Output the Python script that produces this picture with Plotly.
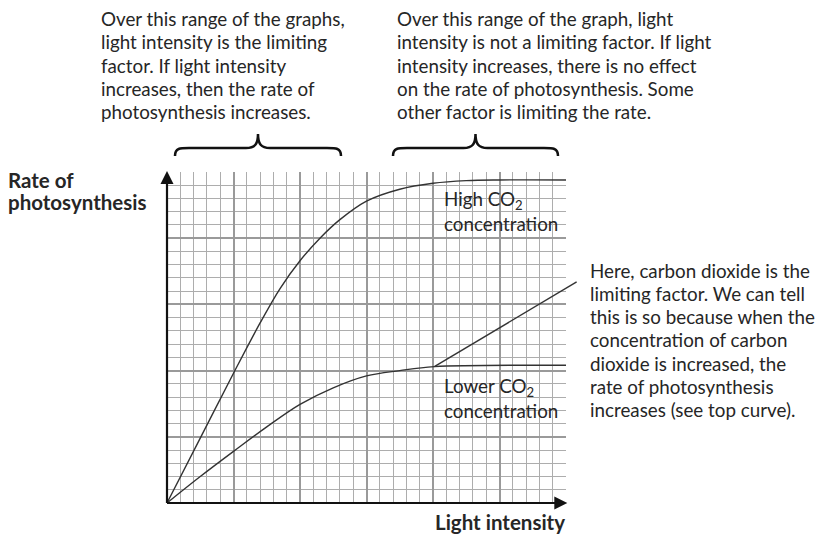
import plotly.graph_objects as go

# Graph-paper grid measured in cells: 30 across (light intensity), 25 up (rate)
X_MAX = 30
Y_MAX = 25

# High CO2 concentration curve
high_x = [0, 2.5, 5, 7, 8.5, 10, 11.5, 13, 15, 17.5, 20, 22.5, 25, 30]
high_y = [0, 4.9, 9.8, 13.6, 16.2, 18.3, 20.0, 21.4, 22.8, 23.7, 24.15, 24.35, 24.4, 24.4]

# Lower CO2 concentration curve
low_x = [0, 2.5, 5, 7.5, 10, 12.5, 15, 17.5, 20.1, 30]
low_y = [0, 2.0, 3.9, 5.75, 7.45, 8.7, 9.6, 10.0, 10.3, 10.4]

# Rate that would continue if CO2 were not limiting (runs out to the note)
co2_line_x = [20.1, 30.8]
co2_line_y = [10.3, 16.7]

# Axis arrow tips
x_axis_end = 30.1
y_axis_end = 25.07

left_note = [
    "Over this range of the graphs,",
    "light intensity is the limiting",
    "factor. If light intensity",
    "increases, then the rate of",
    "photosynthesis increases.",
]
right_note = [
    "Over this range of the graph, light",
    "intensity is not a limiting factor. If light",
    "intensity increases, there is no effect",
    "on the rate of photosynthesis. Some",
    "other factor is limiting the rate.",
]
side_note = [
    "Here, carbon dioxide is the",
    "limiting factor. We can tell",
    "this is so because when the",
    "concentration of carbon",
    "dioxide is increased, the",
    "rate of photosynthesis",
    "increases (see top curve).",
]
high_label = ["High CO<sub>2</sub>", "concentration"]
low_label = ["Lower CO<sub>2</sub>", "concentration"]
y_title = ["Rate of", "photosynthesis"]
x_title = "Light intensity"

W, H = 817, 536
# Outer drawing area (curves, axes) and the grid inside it, in pixels
OL, OR, OT, OB = 160, 590, 165, 510
GL, GR, GT, GB = 167, 566, 172, 503

FONT = "Lato"
TEXT_COLOR = "#262626"
CURVE_COLOR = "#333333"
AXIS_COLOR = "#111111"
NOTE_SIZE = 18.8


def px(xp):
    return (xp - OL) / (OR - OL)


def py(yp):
    return (OB - yp) / (OB - OT)


# Same cell size on both axis pairs so the curves line up with the grid
sx = (GR - GL) / X_MAX
sy = (GB - GT) / Y_MAX
x2_range = [(OL - GL) / sx, (OR - GL) / sx]
y2_range = [(GB - OB) / sy, (GB - OT) / sy]

fig = go.Figure()

# Placeholder so the grid subplot is drawn
fig.add_trace(go.Scatter(x=[None], y=[None], xaxis="x", yaxis="y", showlegend=False, hoverinfo="skip"))

curve_line = dict(color=CURVE_COLOR, width=1.4, shape="spline", smoothing=1.0)
fig.add_trace(go.Scatter(x=high_x, y=high_y, mode="lines", line=curve_line,
                         xaxis="x2", yaxis="y2", hoverinfo="skip", showlegend=False))
fig.add_trace(go.Scatter(x=low_x, y=low_y, mode="lines", line=curve_line,
                         xaxis="x2", yaxis="y2", hoverinfo="skip", showlegend=False))
fig.add_trace(go.Scatter(x=co2_line_x, y=co2_line_y, mode="lines",
                         line=dict(color=CURVE_COLOR, width=1.4),
                         xaxis="x2", yaxis="y2", hoverinfo="skip", showlegend=False))

# Axes with arrowheads
fig.add_trace(go.Scatter(x=[0, 0], y=[0, y_axis_end - 0.4], mode="lines",
                         line=dict(color=AXIS_COLOR, width=2.2),
                         xaxis="x2", yaxis="y2", hoverinfo="skip", showlegend=False))
fig.add_trace(go.Scatter(x=[0, x_axis_end - 0.4], y=[0, 0], mode="lines",
                         line=dict(color=AXIS_COLOR, width=2.2),
                         xaxis="x2", yaxis="y2", hoverinfo="skip", showlegend=False))
fig.add_trace(go.Scatter(x=[0], y=[y_axis_end], mode="markers",
                         marker=dict(symbol="arrow-up", size=13, color=AXIS_COLOR, line=dict(width=0)),
                         xaxis="x2", yaxis="y2", hoverinfo="skip", showlegend=False))
fig.add_trace(go.Scatter(x=[x_axis_end], y=[0], mode="markers",
                         marker=dict(symbol="arrow-right", size=13, color=AXIS_COLOR, line=dict(width=0)),
                         xaxis="x2", yaxis="y2", hoverinfo="skip", showlegend=False))

annotations = []


def text_block(lines, x_pix, y_first, step, size, bold=False):
    for i, line in enumerate(lines):
        t = f"<b>{line}</b>" if bold else line
        annotations.append(dict(
            x=px(x_pix), y=py(y_first + i * step), xref="paper", yref="paper",
            text=t, showarrow=False, xanchor="left", yanchor="middle",
            font=dict(family=FONT, size=size, color=TEXT_COLOR),
        ))


text_block(left_note, 99, 18.5, 23.3, NOTE_SIZE)
text_block(right_note, 395, 18.5, 23.3, NOTE_SIZE)
text_block(side_note, 588, 270, 23.3, NOTE_SIZE)
text_block(high_label, 442, 200, 23, NOTE_SIZE)
text_block(low_label, 442, 387, 23, NOTE_SIZE)
text_block(y_title, 6, 180, 22, 20.5, bold=True)

annotations.append(dict(
    x=px(567), y=py(521.5), xref="paper", yref="paper", text=f"<b>{x_title}</b>",
    showarrow=False, xanchor="right", yanchor="middle",
    font=dict(family=FONT, size=20.5, color=TEXT_COLOR),
))


# Curly braces marking the two ranges
def brace(x0, x1, y_end, y_bar, y_tip):
    xm = (x0 + x1) / 2
    pts = [
        f"M {px(x0)},{py(y_end)}",
        f"C {px(x0)},{py(y_bar)} {px(x0 + 5)},{py(y_bar)} {px(x0 + 14)},{py(y_bar)}",
        f"L {px(xm - 12)},{py(y_bar)}",
        f"C {px(xm - 3)},{py(y_bar)} {px(xm)},{py(y_bar - 4)} {px(xm)},{py(y_tip)}",
        f"C {px(xm)},{py(y_bar - 4)} {px(xm + 3)},{py(y_bar)} {px(xm + 12)},{py(y_bar)}",
        f"L {px(x1 - 14)},{py(y_bar)}",
        f"C {px(x1 - 5)},{py(y_bar)} {px(x1)},{py(y_bar)} {px(x1)},{py(y_end)}",
    ]
    return dict(type="path", path=" ".join(pts), xref="paper", yref="paper",
                line=dict(color=AXIS_COLOR, width=2.5))


shapes = [brace(175, 341, 156, 148, 134), brace(393, 558, 156, 148, 134)]

hidden = dict(showgrid=False, showticklabels=False, ticks="", zeroline=False,
              showline=False, fixedrange=True)

fig.update_layout(
    width=W, height=H,
    margin=dict(l=OL, r=W - OR, t=OT, b=H - OB, pad=0),
    paper_bgcolor="white", plot_bgcolor="rgba(0,0,0,0)",
    showlegend=False,
    annotations=annotations,
    shapes=shapes,
    xaxis=dict(
        domain=[px(GL), px(GR)], anchor="y",
        range=[0, X_MAX], tick0=0, dtick=5, showgrid=True, gridcolor="#9a9a9a",
        gridwidth=2.4, showticklabels=False, ticks="", zeroline=False,
        showline=False, fixedrange=True,
        minor=dict(dtick=1, tick0=0, showgrid=True, gridcolor="#adadad", gridwidth=1.3),
    ),
    yaxis=dict(
        domain=[py(GB), py(GT)], anchor="x",
        range=[0, Y_MAX], tick0=0, dtick=5, showgrid=True, gridcolor="#9a9a9a",
        gridwidth=2.4, showticklabels=False, ticks="", zeroline=False,
        showline=False, fixedrange=True,
        minor=dict(dtick=1, tick0=0, showgrid=True, gridcolor="#adadad", gridwidth=1.3),
    ),
    xaxis2=dict(domain=[0, 1], anchor="y2", range=x2_range, **hidden),
    yaxis2=dict(domain=[0, 1], anchor="x2", range=y2_range, **hidden),
)

fig.write_html("out.html")
